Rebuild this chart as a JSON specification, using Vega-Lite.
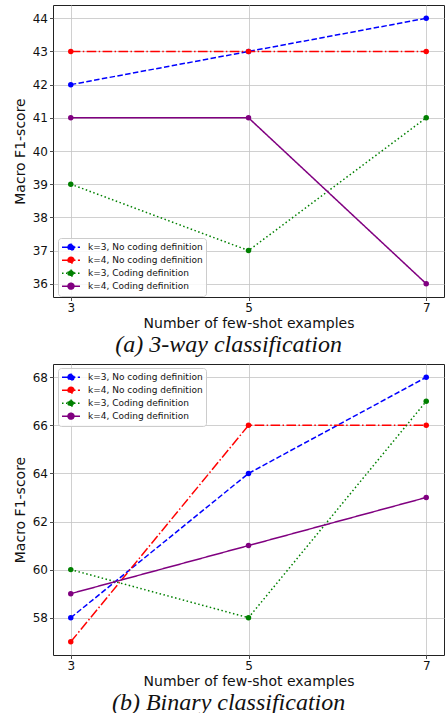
{
  "$schema": "https://vega.github.io/schema/vega-lite/v6.json",
  "padding": {"left": 12, "top": 4, "right": 0, "bottom": 0},
  "background": "white",
  "datasets": {
    "three": [
      {"series": "k=3, No coding definition", "shots": 3, "f1": 42},
      {"series": "k=3, No coding definition", "shots": 5, "f1": 43},
      {"series": "k=3, No coding definition", "shots": 7, "f1": 44},
      {"series": "k=4, No coding definition", "shots": 3, "f1": 43},
      {"series": "k=4, No coding definition", "shots": 5, "f1": 43},
      {"series": "k=4, No coding definition", "shots": 7, "f1": 43},
      {"series": "k=3, Coding definition", "shots": 3, "f1": 39},
      {"series": "k=3, Coding definition", "shots": 5, "f1": 37},
      {"series": "k=3, Coding definition", "shots": 7, "f1": 41},
      {"series": "k=4, Coding definition", "shots": 3, "f1": 41},
      {"series": "k=4, Coding definition", "shots": 5, "f1": 41},
      {"series": "k=4, Coding definition", "shots": 7, "f1": 36}
    ],
    "binary": [
      {"series": "k=3, No coding definition", "shots": 3, "f1": 58},
      {"series": "k=3, No coding definition", "shots": 5, "f1": 64},
      {"series": "k=3, No coding definition", "shots": 7, "f1": 68},
      {"series": "k=4, No coding definition", "shots": 3, "f1": 57},
      {"series": "k=4, No coding definition", "shots": 5, "f1": 66},
      {"series": "k=4, No coding definition", "shots": 7, "f1": 66},
      {"series": "k=3, Coding definition", "shots": 3, "f1": 60},
      {"series": "k=3, Coding definition", "shots": 5, "f1": 58},
      {"series": "k=3, Coding definition", "shots": 7, "f1": 67},
      {"series": "k=4, Coding definition", "shots": 3, "f1": 59},
      {"series": "k=4, Coding definition", "shots": 5, "f1": 61},
      {"series": "k=4, Coding definition", "shots": 7, "f1": 63}
    ]
  },
  "config": {
    "font": "DejaVu Sans",
    "view": {"stroke": "#222222", "strokeWidth": 1},
    "axis": {
      "grid": true, "gridColor": "#c4c4c4", "gridWidth": 0.8,
      "domain": false, "tickColor": "#222222", "tickSize": 3.5, "tickWidth": 0.8,
      "labelFont": "DejaVu Sans", "labelFontSize": 12, "labelColor": "#111111", "labelPadding": 2,
      "titleFont": "DejaVu Sans", "titleFontSize": 14, "titleFontWeight": "normal", "titleColor": "#111111"
    },
    "axisX": {"titlePadding": 3},
    "axisY": {"titlePadding": 5}
  },
  "spacing": 6,
  "resolve": {
    "scale": {"color": "independent", "strokeDash": "independent"},
    "legend": {"color": "independent", "strokeDash": "independent"}
  },
  "vconcat": [
    {
      "width": 391, "height": 292,
      "data": {"name": "three"},
      "title": {"text": "(a) 3-way classification", "orient": "bottom", "frame": "bounds", "anchor": "middle", "font": "Liberation Serif", "fontStyle": "italic", "fontWeight": "normal", "fontSize": 24, "color": "#111111", "offset": 2},
      "encoding": {
        "x": {"field": "shots", "type": "quantitative", "scale": {"domain": [2.8, 7.2], "nice": false, "zero": false}, "axis": {"values": [3, 5, 7], "title": "Number of few-shot examples"}},
        "y": {"field": "f1", "type": "quantitative", "scale": {"domain": [35.6, 44.4], "nice": false, "zero": false}, "axis": {"values": [36, 37, 38, 39, 40, 41, 42, 43, 44], "title": "Macro F1-score"}}
      },
      "layer": [
        {
          "mark": {"type": "line", "strokeWidth": 1.5},
          "encoding": {
            "color": {"field": "series", "type": "nominal",
              "scale": {"domain": ["k=3, No coding definition", "k=4, No coding definition", "k=3, Coding definition", "k=4, Coding definition"], "range": ["#0000ff", "#ff0000", "#008000", "#800080"]},
              "legend": {"title": null, "orient": "none", "legendX": 5, "legendY": 233,
                "symbolType": "M-1,0L1,0M-0.33,0A0.33,0.33,0,1,1,0.33,0A0.33,0.33,0,1,1,-0.33,0Z",
                "symbolSize": 324, "symbolStrokeWidth": 1.5,
                "labelFont": "DejaVu Sans", "labelFontSize": 9, "labelColor": "#111111", "labelOffset": 7,
                "fillColor": "rgba(255,255,255,0.85)", "strokeColor": "#cccccc", "cornerRadius": 3, "padding": 3,
                "rowPadding": 0, "clipHeight": 12.3,
                "encode": {"symbols": {"update": {"fill": {"signal": "datum.value == 'k=3, No coding definition' ? '#0000ff' : datum.value == 'k=4, No coding definition' ? '#ff0000' : datum.value == 'k=3, Coding definition' ? '#008000' : '#800080'"}}}}
              }},
            "strokeDash": {"field": "series", "type": "nominal",
              "scale": {"domain": ["k=3, No coding definition", "k=4, No coding definition", "k=3, Coding definition", "k=4, Coding definition"], "range": [[5.5, 2.4], [9.6, 2.4, 1.5, 2.4], [1.5, 2.5], [1, 0]]},
              "legend": {"title": null, "orient": "none", "legendX": 5, "legendY": 233,
                "symbolType": "M-1,0L1,0M-0.33,0A0.33,0.33,0,1,1,0.33,0A0.33,0.33,0,1,1,-0.33,0Z",
                "symbolSize": 324, "symbolStrokeWidth": 1.5,
                "labelFont": "DejaVu Sans", "labelFontSize": 9, "labelColor": "#111111", "labelOffset": 7,
                "fillColor": "rgba(255,255,255,0.85)", "strokeColor": "#cccccc", "cornerRadius": 3, "padding": 3,
                "rowPadding": 0, "clipHeight": 12.3,
                "encode": {"symbols": {"update": {"fill": {"signal": "datum.value == 'k=3, No coding definition' ? '#0000ff' : datum.value == 'k=4, No coding definition' ? '#ff0000' : datum.value == 'k=3, Coding definition' ? '#008000' : '#800080'"}}}}
              }}
          }
        },
        {
          "mark": {"type": "point", "filled": true, "size": 30, "opacity": 1},
          "encoding": {
            "color": {"field": "series", "type": "nominal", "legend": null}
          }
        }
      ]
    },
    {
      "width": 391, "height": 291,
      "data": {"name": "binary"},
      "title": {"text": "(b) Binary classification", "orient": "bottom", "frame": "bounds", "anchor": "middle", "font": "Liberation Serif", "fontStyle": "italic", "fontWeight": "normal", "fontSize": 24, "color": "#111111", "offset": 2},
      "encoding": {
        "x": {"field": "shots", "type": "quantitative", "scale": {"domain": [2.8, 7.2], "nice": false, "zero": false}, "axis": {"values": [3, 5, 7], "title": "Number of few-shot examples"}},
        "y": {"field": "f1", "type": "quantitative", "scale": {"domain": [56.45, 68.55], "nice": false, "zero": false}, "axis": {"values": [58, 60, 62, 64, 66, 68], "title": "Macro F1-score"}}
      },
      "layer": [
        {
          "mark": {"type": "line", "strokeWidth": 1.5},
          "encoding": {
            "color": {"field": "series", "type": "nominal",
              "scale": {"domain": ["k=3, No coding definition", "k=4, No coding definition", "k=3, Coding definition", "k=4, Coding definition"], "range": ["#0000ff", "#ff0000", "#008000", "#800080"]},
              "legend": {"title": null, "orient": "none", "legendX": 5, "legendY": 4,
                "symbolType": "M-1,0L1,0M-0.33,0A0.33,0.33,0,1,1,0.33,0A0.33,0.33,0,1,1,-0.33,0Z",
                "symbolSize": 324, "symbolStrokeWidth": 1.5,
                "labelFont": "DejaVu Sans", "labelFontSize": 9, "labelColor": "#111111", "labelOffset": 7,
                "fillColor": "rgba(255,255,255,0.85)", "strokeColor": "#cccccc", "cornerRadius": 3, "padding": 3,
                "rowPadding": 0, "clipHeight": 12.3,
                "encode": {"symbols": {"update": {"fill": {"signal": "datum.value == 'k=3, No coding definition' ? '#0000ff' : datum.value == 'k=4, No coding definition' ? '#ff0000' : datum.value == 'k=3, Coding definition' ? '#008000' : '#800080'"}}}}
              }},
            "strokeDash": {"field": "series", "type": "nominal",
              "scale": {"domain": ["k=3, No coding definition", "k=4, No coding definition", "k=3, Coding definition", "k=4, Coding definition"], "range": [[5.5, 2.4], [9.6, 2.4, 1.5, 2.4], [1.5, 2.5], [1, 0]]},
              "legend": {"title": null, "orient": "none", "legendX": 5, "legendY": 4,
                "symbolType": "M-1,0L1,0M-0.33,0A0.33,0.33,0,1,1,0.33,0A0.33,0.33,0,1,1,-0.33,0Z",
                "symbolSize": 324, "symbolStrokeWidth": 1.5,
                "labelFont": "DejaVu Sans", "labelFontSize": 9, "labelColor": "#111111", "labelOffset": 7,
                "fillColor": "rgba(255,255,255,0.85)", "strokeColor": "#cccccc", "cornerRadius": 3, "padding": 3,
                "rowPadding": 0, "clipHeight": 12.3,
                "encode": {"symbols": {"update": {"fill": {"signal": "datum.value == 'k=3, No coding definition' ? '#0000ff' : datum.value == 'k=4, No coding definition' ? '#ff0000' : datum.value == 'k=3, Coding definition' ? '#008000' : '#800080'"}}}}
              }}
          }
        },
        {
          "mark": {"type": "point", "filled": true, "size": 30, "opacity": 1},
          "encoding": {
            "color": {"field": "series", "type": "nominal", "legend": null}
          }
        }
      ]
    }
  ]
}
